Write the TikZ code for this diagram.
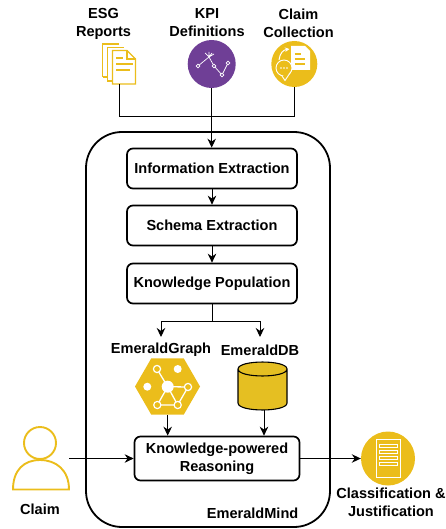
\documentclass[tikz,border=0pt]{standalone}
\usepackage{fontspec}
\setmainfont{Liberation Sans}
\usetikzlibrary{arrows.meta,shapes.geometric}

\definecolor{emyellow}{HTML}{EBBD1B}
\definecolor{emdb}{HTML}{E5BF22}
\definecolor{empurple}{HTML}{6F3F96}
\tikzset{
    stepbox/.style={draw, line width=1.7pt, rounded corners=6pt, align=center,
                    font=\fontsize{14.55}{18}\selectfont\bfseries, inner sep=0pt},
    caption/.style={align=center, inner sep=0pt, font=\fontsize{14.55}{18}\selectfont\bfseries},
    link/.style={line width=0.9pt, -{Stealth[length=9pt,width=8.5pt]}},
    plain/.style={line width=0.9pt},
    thinwhite/.style={draw=white, line width=0.7pt},
}

\begin{document}
\begin{tikzpicture}[x=1pt,y=-1pt]
    \useasboundingbox (0,0) rectangle (445,529);
    \node[draw, line width=1.8pt, rounded corners=36pt, minimum width=244pt, minimum height=395pt, inner sep=0pt]
        (mind) at (208,329.5) {};
    \node[caption, anchor=east] (mindlabel) at (298.5,513) {EmeraldMind};

    \node[stepbox, minimum width=170pt, minimum height=40pt] (info) at (212,168.5) {Information Extraction};
    \node[stepbox, minimum width=170pt, minimum height=40pt] (schema) at (212,225.5) {Schema Extraction};
    \node[stepbox, minimum width=170pt, minimum height=40pt] (population) at (212,283.5) {Knowledge Population};
    \node[stepbox, minimum width=165pt, minimum height=44pt] (reasoning) at (217,458.5) {Knowledge-powered\\Reasoning};

    % inputs
    \node[caption] (esglabel) at (103.5,24) {ESG\\Reports};
    \node[caption] (kpilabel) at (207,23) {KPI\\Definitions};
    \node[caption] (claimlabel) at (298.5,23) {Claim\\Collection};

    \begin{scope}[emyellow, line width=1.2pt]  % stack of reports
        \draw (119,44) -- (102.5,44) -- (102.5,77);
        \draw (102.5,77) -- (107,77);
        \draw (124,47.5) -- (107.5,47.5) -- (107.5,81) -- (112,81);
        \draw[fill=white] (112.5,50.5) -- (127,50.5) -- (135.5,59) -- (135.5,84) -- (112.5,84) -- cycle;
        \draw (127,50.5) -- (127,59) -- (135.5,59);
        \draw (116,58) -- (123,58);
        \draw (116,64) -- (133,64);
        \draw (116,70) -- (130,70);
    \end{scope}
    \coordinate (esg) at (119.5,84);

    \node[circle, fill=empurple, minimum size=48pt, inner sep=0pt] (kpi) at (211.7,64) {};
    \draw[thinwhite] (198,66) -- (209,57) -- (214,66) -- (222,75) -- (228,63);
    \draw[thinwhite] (209,57) -- (205,53) (209,57) -- (209,52) (209,57) -- (212,53) (209,57) -- (214,54);
    \foreach \px/\py in {198/66,214/66,222/75,228/63}
        \draw[thinwhite, fill=empurple] (\px,\py) circle (1.8pt);

    \node[circle, fill=emyellow, minimum size=46pt, inner sep=0pt] (collection) at (294.3,64) {};
    \fill[white] (291,46) -- (305,46) -- (310,51) -- (310,70) -- (291,70) -- cycle;
    \foreach \py/\pxend in {54/301,59/305,64/305}
        \draw[emyellow, line width=1.1pt] (294.5,\py) -- (\pxend,\py);
    \draw[white, line width=1pt, -{Stealth[length=4.5pt,width=4.5pt]}] (279,60) .. controls (280,53) and (283,50) .. (289.5,49);
    \draw[white, fill=emyellow, line width=0.9pt] (284,68) circle (8pt);
    \draw[white, fill=emyellow, line width=0.9pt] (282,76) -- (285,80.5) -- (290,73);
    \foreach \px in {281,284,287}
        \fill[white] (\px,68) circle (0.8pt);

    % claim person and verdict
    \draw[emyellow, line width=1.9pt] (40,443) circle (16pt);
    \draw[emyellow, line width=1.9pt] (13,489.5) .. controls (13,470) and (24,460) .. (40,460)
        .. controls (56,460) and (69,470) .. (69,489.5) -- cycle;
    \coordinate (person) at (69,458.5);
    \node[caption] (claimname) at (40,509) {Claim};

    \node[circle, fill=emyellow, minimum size=54pt, inner sep=0pt] (verdict) at (388,458.5) {};
    \draw[white, line width=0.8pt] (376.7,439) rectangle (400,477);
    \foreach \py in {445.7,452,457.8,464}
        \draw[white, line width=0.8pt] (379.3,\py-1.7) rectangle (397.7,\py+1.7);
    \node[caption] (verdictlabel) at (391,502) {Classification \&\\Justification};

    % stores
    \node[caption] (graphlabel) at (161,350) {EmeraldGraph};
    \node[caption] (dblabel) at (260,350) {EmeraldDB};

    \node[regular polygon, regular polygon sides=6, fill=emyellow, minimum size=65pt, inner sep=0pt] (graph) at (167.5,386.5) {};
    \foreach \ax/\ay in {157/369,188/387,157.3/405,177.7/405}
        \draw[white, line width=1.3pt] (167.7,386.7) -- (\ax,\ay);
    \draw[white, line width=1.3pt] (157.3,405) -- (177.7,405) -- (188,387);
    \fill[white] (167.7,386.7) circle (6pt);
    \foreach \ax/\ay in {177.7/369,147.3/386.7}
        \fill[white] (\ax,\ay) circle (4pt);
    \foreach \ax/\ay in {157/369,188/387,157.3/405,177.7/405}
        \draw[white, fill=emyellow, line width=1.2pt] (\ax,\ay) circle (3.6pt);

    \draw[fill=emdb, line width=1.1pt] (238,369) -- (238,403) .. controls (238,412.3) and (287,412.3) .. (287,403)
        -- (287,369) .. controls (287,359.7) and (238,359.7) .. (238,369) .. controls (238,378.3) and (287,378.3) .. (287,369);
    \coordinate (db) at (264,410);

    % connectors
    \coordinate (merge) at (211.7,116);
    \draw[plain] (esg) |- (merge);
    \draw[plain] (collection.south) |- (merge);
    \draw[link] (kpi.south) -- (info.north -| kpi.south);
    \draw[link] (info) -- (schema);
    \draw[link] (schema) -- (population);
    \coordinate (fork) at (212,321);
    \coordinate (graphin) at (161,337);
    \coordinate (dbin) at (260,337);
    \draw[plain] (population.south) -- (fork);
    \draw[link] (fork) -| (graphin);
    \draw[link] (fork) -| (dbin);
    \draw[link] (graph.south -| 167.7,0) -- (reasoning.north -| 167.7,0);
    \draw[link] (db) -- (reasoning.north -| db);
    \draw[link] (person) -- (reasoning.west);
    \draw[link] (reasoning.east) -- (verdict.west);
\end{tikzpicture}
\end{document}
